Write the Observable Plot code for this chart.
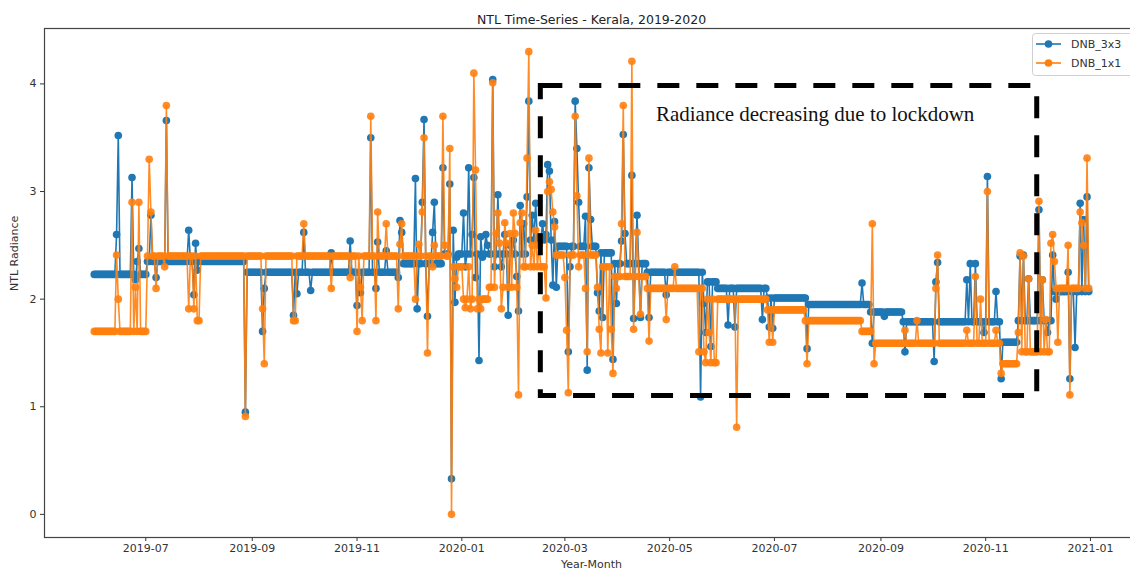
<!DOCTYPE html>
<html><head><meta charset="utf-8">
<script src="https://cdn.jsdelivr.net/npm/d3@7"></script>
<script src="https://cdn.jsdelivr.net/npm/@observablehq/plot@0.6"></script>
<style>body{margin:0;background:#fff} #chart{position:relative;width:1130px;height:575px;overflow:hidden}</style>
</head><body><div id="chart"></div>
<script>
// ---- data ----
const firstDay = "2019-06-01", lastDay = "2020-12-31";
const seriesNames = ["DNB_3x3", "DNB_1x1"];
const seriesColors = ["#1f77b4", "#ff7f0e"];

// DNB_3x3: level held from each date, plus single-day values
const base3x3 = [["2019-06-01",2.23],["2019-07-02",2.35],["2019-08-28",2.25],["2019-11-26",2.33],["2019-12-22",2.42],["2020-02-10",2.55],["2020-02-25",2.49],["2020-03-22",2.43],["2020-03-30",2.33],["2020-04-18",2.25],["2020-05-21",2.16],["2020-05-29",2.10],["2020-06-27",2.01],["2020-07-21",1.95],["2020-08-26",1.88],["2020-09-14",1.79],["2020-11-11",1.60],["2020-11-22",1.80],["2020-12-10",2.07]];
const spikes3x3 = [["2019-06-14",2.60],["2019-06-15",3.52],["2019-06-23",3.13],["2019-06-25",2.18],["2019-06-26",2.35],["2019-06-27",2.47],["2019-07-04",2.78],["2019-07-07",2.20],["2019-07-13",3.66],["2019-07-26",2.64],["2019-07-29",2.04],["2019-07-30",2.52],["2019-07-31",2.27],["2019-08-28",0.95],["2019-09-07",1.70],["2019-09-08",2.10],["2019-09-25",1.85],["2019-09-27",2.05],["2019-10-01",2.62],["2019-10-05",2.08],["2019-10-17",2.43],["2019-10-28",2.54],["2019-11-01",1.94],["2019-11-03",2.06],["2019-11-09",3.50],["2019-11-12",2.10],["2019-11-13",2.53],["2019-11-18",2.45],["2019-11-25",2.20],["2019-11-26",2.73],["2019-11-27",2.62],["2019-12-05",3.12],["2019-12-06",1.91],["2019-12-09",2.90],["2019-12-10",3.67],["2019-12-12",1.84],["2019-12-15",2.62],["2019-12-16",2.90],["2019-12-21",3.22],["2019-12-25",3.07],["2019-12-26",0.33],["2019-12-27",2.64],["2019-12-28",1.97],["2019-12-29",2.39],["2020-01-02",2.80],["2020-01-03",2.30],["2020-01-05",3.22],["2020-01-07",2.60],["2020-01-08",3.13],["2020-01-09",2.20],["2020-01-11",1.43],["2020-01-12",2.58],["2020-01-13",2.39],["2020-01-15",2.60],["2020-01-16",2.50],["2020-01-19",4.04],["2020-01-20",2.30],["2020-01-22",2.97],["2020-01-24",2.30],["2020-01-26",2.60],["2020-01-28",1.85],["2020-01-29",2.50],["2020-01-31",2.55],["2020-02-02",2.21],["2020-02-03",1.89],["2020-02-04",2.87],["2020-02-06",2.70],["2020-02-08",2.95],["2020-02-09",3.84],["2020-02-11",2.78],["2020-02-13",2.89],["2020-02-15",2.58],["2020-02-17",2.70],["2020-02-19",2.60],["2020-02-20",3.25],["2020-02-21",3.19],["2020-02-23",2.13],["2020-02-24",2.72],["2020-02-25",2.11],["2020-03-03",1.51],["2020-03-04",2.30],["2020-03-07",3.84],["2020-03-08",3.40],["2020-03-09",2.90],["2020-03-13",2.77],["2020-03-14",1.34],["2020-03-15",3.22],["2020-03-16",2.74],["2020-03-20",2.06],["2020-03-21",1.89],["2020-03-23",1.83],["2020-03-29",1.44],["2020-03-31",1.96],["2020-04-03",2.54],["2020-04-04",3.53],["2020-04-05",2.61],["2020-04-09",3.15],["2020-04-10",1.82],["2020-04-12",2.78],["2020-04-14",1.83],["2020-04-19",1.83],["2020-04-29",2.04],["2020-05-19",1.09],["2020-05-21",1.96],["2020-05-22",1.69],["2020-05-25",1.56],["2020-06-04",1.76],["2020-06-08",1.74],["2020-06-24",1.81],["2020-06-28",1.74],["2020-06-30",1.73],["2020-07-20",1.54],["2020-08-21",2.15],["2020-08-27",1.59],["2020-09-03",1.84],["2020-09-15",1.51],["2020-10-02",1.42],["2020-10-03",2.16],["2020-10-04",2.34],["2020-10-21",2.18],["2020-10-23",2.33],["2020-10-26",2.33],["2020-10-31",1.69],["2020-11-02",3.14],["2020-11-07",2.07],["2020-11-10",1.26],["2020-11-20",1.80],["2020-11-21",2.40],["2020-11-23",2.41],["2020-11-26",2.19],["2020-12-02",2.83],["2020-12-04",2.18],["2020-12-07",1.69],["2020-12-10",2.41],["2020-12-12",2.00],["2020-12-19",2.25],["2020-12-20",1.26],["2020-12-23",1.55],["2020-12-26",2.89],["2020-12-28",2.74],["2020-12-30",2.95],["2020-12-31",2.07]];

// DNB_1x1
const base1x1 = [["2019-06-01",1.70],["2019-07-02",2.40],["2019-12-27",2.30],["2020-01-02",2.00],["2020-01-17",2.11],["2020-02-06",2.30],["2020-02-25",2.41],["2020-03-20",2.30],["2020-03-30",2.21],["2020-04-18",2.10],["2020-05-22",2.00],["2020-06-27",1.90],["2020-07-19",1.80],["2020-08-21",1.70],["2020-08-27",1.59],["2020-11-11",1.40],["2020-11-22",1.51],["2020-12-10",2.10]];
const spikes1x1 = [["2019-06-14",2.41],["2019-06-15",2.00],["2019-06-23",2.90],["2019-06-25",2.11],["2019-06-27",2.90],["2019-07-03",3.30],["2019-07-04",2.81],["2019-07-07",2.10],["2019-07-12",2.30],["2019-07-13",3.80],["2019-07-26",1.91],["2019-07-29",1.91],["2019-07-31",1.80],["2019-08-01",1.80],["2019-08-28",0.91],["2019-09-07",1.91],["2019-09-08",1.40],["2019-09-25",1.80],["2019-09-26",1.80],["2019-10-01",2.70],["2019-10-17",2.10],["2019-10-28",2.20],["2019-11-01",1.70],["2019-11-03",2.11],["2019-11-04",1.80],["2019-11-09",3.70],["2019-11-12",1.80],["2019-11-13",2.81],["2019-11-18",2.70],["2019-11-25",1.91],["2019-11-26",2.51],["2019-11-27",2.70],["2019-12-05",2.00],["2019-12-07",2.51],["2019-12-09",2.81],["2019-12-10",3.50],["2019-12-12",1.50],["2019-12-15",2.30],["2019-12-16",2.50],["2019-12-21",3.70],["2019-12-22",2.50],["2019-12-25",3.40],["2019-12-26",0.00],["2019-12-28",2.19],["2019-12-29",2.11],["2020-01-03",1.92],["2020-01-05",2.30],["2020-01-06",1.91],["2020-01-08",4.10],["2020-01-09",3.20],["2020-01-10",1.91],["2020-01-12",1.91],["2020-01-19",4.01],["2020-01-21",2.61],["2020-01-22",2.80],["2020-01-23",2.52],["2020-01-24",1.91],["2020-01-26",2.71],["2020-01-27",2.52],["2020-01-29",2.61],["2020-01-31",2.80],["2020-02-01",2.61],["2020-02-03",1.11],["2020-02-04",2.71],["2020-02-05",2.80],["2020-02-08",3.31],["2020-02-09",4.30],["2020-02-11",2.50],["2020-02-13",2.64],["2020-02-15",2.50],["2020-02-19",2.01],["2020-02-20",3.00],["2020-02-21",3.09],["2020-02-22",3.02],["2020-02-23",2.81],["2020-02-24",2.67],["2020-03-01",2.20],["2020-03-02",1.71],["2020-03-03",1.13],["2020-03-07",3.70],["2020-03-08",2.96],["2020-03-09",2.30],["2020-03-13",2.10],["2020-03-14",1.51],["2020-03-15",3.31],["2020-03-20",2.11],["2020-03-21",1.72],["2020-03-22",1.50],["2020-03-26",1.50],["2020-03-28",1.72],["2020-03-29",1.31],["2020-03-31",2.10],["2020-04-03",2.70],["2020-04-04",3.80],["2020-04-09",4.21],["2020-04-10",1.72],["2020-04-12",2.62],["2020-04-14",1.86],["2020-04-19",1.61],["2020-04-29",1.81],["2020-05-04",2.30],["2020-05-18",1.51],["2020-05-21",1.51],["2020-05-22",1.41],["2020-05-24",1.69],["2020-05-25",1.41],["2020-05-27",1.41],["2020-05-28",1.41],["2020-06-09",0.81],["2020-06-28",1.60],["2020-06-30",1.60],["2020-07-20",1.40],["2020-08-27",2.70],["2020-08-28",1.40],["2020-09-15",1.71],["2020-09-22",1.80],["2020-10-03",2.10],["2020-10-04",2.41],["2020-10-21",1.71],["2020-10-26",2.21],["2020-10-29",2.00],["2020-11-02",3.00],["2020-11-07",1.71],["2020-11-10",1.31],["2020-11-20",1.69],["2020-11-21",2.43],["2020-11-23",2.40],["2020-11-26",2.19],["2020-12-02",2.91],["2020-12-04",2.18],["2020-12-06",1.81],["2020-12-09",2.52],["2020-12-10",2.60],["2020-12-11",2.35],["2020-12-13",1.60],["2020-12-19",2.50],["2020-12-20",1.11],["2020-12-26",2.81],["2020-12-27",2.71],["2020-12-28",2.50],["2020-12-30",3.31],["2020-12-31",2.10]];

const xTickDates = ["2019-07-01","2019-09-01","2019-11-01","2020-01-01","2020-03-01","2020-05-01","2020-07-01","2020-09-01","2020-11-01","2021-01-01"];
const yTickValues = [0, 1, 2, 3, 4];
const boxDates = ["2020-02-16", "2020-12-01"];
const boxValues = [1.10, 3.98];
const noteText = "Radiance decreasing due to lockdown";
const noteDate = "2020-04-23", noteValue = 3.72;
const titleText = "NTL Time-Series - Kerala, 2019-2020";
const xLabel = "Year-Month", yLabel = "NTL Radiance";

// ---- build ----
const parse = d3.utcParse("%Y-%m-%d");
const fmt = d3.utcFormat("%Y-%m-%d");
function expand(base, spikes, name) {
  const sp = new Map(spikes.map(([d, v]) => [d, v]));
  const days = d3.utcDay.range(parse(firstDay), d3.utcDay.offset(parse(lastDay), 1));
  let bi = 0; const out = [];
  for (const day of days) {
    const key = fmt(day);
    while (bi + 1 < base.length && base[bi + 1][0] <= key) bi++;
    out.push({date: day, value: sp.has(key) ? sp.get(key) : base[bi][1], series: name});
  }
  return out;
}
const s3 = expand(base3x3, spikes3x3, seriesNames[0]);
const s1 = expand(base1x1, spikes1x1, seriesNames[1]);

const plot = Plot.plot({
  width: 1130, height: 575,
  marginLeft: 44, marginRight: -8, marginTop: 28, marginBottom: 38,
  style: {fontFamily: "DejaVu Sans", fontSize: "11px", color: "#333", background: "white", overflow: "hidden"},
  x: {type: "utc", domain: [new Date("2019-05-03T01:00Z"), new Date("2021-01-28T23:00Z")]},
  y: {domain: [-0.215, 4.515]},
  marks: [
    Plot.axisX({ticks: xTickDates.map(parse), tickFormat: d3.utcFormat("%Y-%m"), tickSize: 4, tickPadding: 3, label: null, fontSize: 11}),
    Plot.axisY({ticks: yTickValues, tickFormat: d => String(d), tickSize: 4, tickPadding: 4, label: null, fontSize: 11}),
    Plot.line(s3, {x: "date", y: "value", stroke: seriesColors[0], strokeWidth: 1.6}),
    Plot.dot(s3, {x: "date", y: "value", fill: seriesColors[0], r: 3.8}),
    Plot.line(s1, {x: "date", y: "value", stroke: seriesColors[1], strokeWidth: 1.6, strokeOpacity: 0.9}),
    Plot.dot(s1, {x: "date", y: "value", fill: seriesColors[1], r: 3.8, fillOpacity: 0.9}),
    Plot.frame({stroke: "#444", strokeWidth: 1.2}),
    Plot.rect([0], {x1: () => parse(boxDates[0]), x2: () => parse(boxDates[1]), y1: () => boxValues[0], y2: () => boxValues[1],
      stroke: "black", strokeWidth: 5, strokeDasharray: "22,17", fill: "none"}),
    Plot.text([noteText], {x: () => parse(noteDate), y: () => noteValue, text: d => d, textAnchor: "start",
      fontFamily: "Liberation Serif", fontSize: 21, fill: "#111"}),
    Plot.text([titleText], {frameAnchor: "top", dy: -13, text: d => d, fontSize: 12.5, fill: "#222"}),
    Plot.text([xLabel], {frameAnchor: "bottom", dy: 30, text: d => d, fontSize: 11, fill: "#333"}),
    Plot.text([yLabel], {frameAnchor: "left", dx: -30, dy: 8, rotate: -90, text: d => d, fontSize: 11, fill: "#333"})
  ]
});

// legend
const svg = d3.select(plot);
const lg = svg.append("g").attr("font-family", "DejaVu Sans").attr("font-size", 11).attr("text-anchor", "start");
lg.append("rect").attr("x", 1032.5).attr("y", 33.5).attr("width", 110).attr("height", 42).attr("rx", 3)
  .attr("fill", "white").attr("stroke", "#d0d0d0");
seriesNames.forEach((name, i) => {
  const y = 44 + i * 19;
  lg.append("line").attr("x1", 1036).attr("x2", 1061).attr("y1", y).attr("y2", y).attr("stroke", seriesColors[i]).attr("stroke-width", 1.6);
  lg.append("circle").attr("cx", 1048.5).attr("cy", y).attr("r", 3.8).attr("fill", seriesColors[i]);
  lg.append("text").attr("x", 1071).attr("y", y).attr("dy", "0.35em").attr("text-anchor", "start").attr("fill", "#333").text(name);
});

document.getElementById("chart").appendChild(plot);
</script>
</body></html>
